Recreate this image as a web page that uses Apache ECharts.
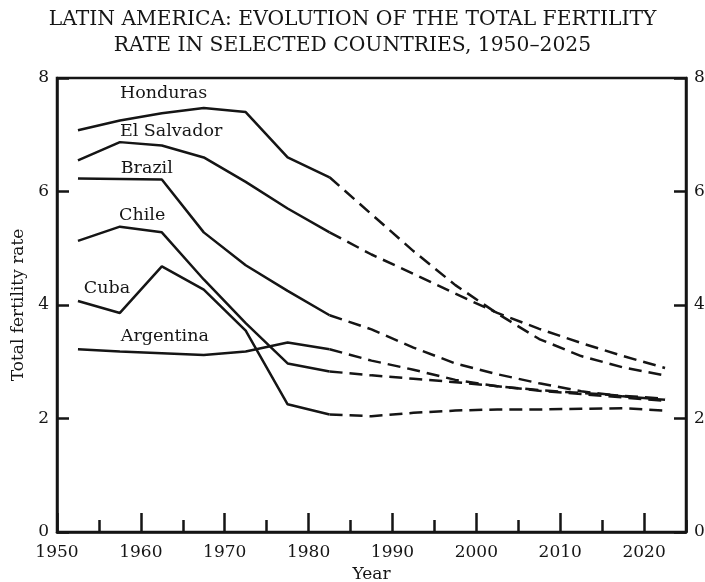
<!DOCTYPE html>
<html>
<head>
<meta charset="utf-8">
<script src="https://cdn.jsdelivr.net/npm/echarts@6/dist/echarts.min.js"></script>
<style>
html, body { margin: 0; padding: 0; background: #fff; }
#chart { width: 705px; height: 582px; }
</style>
</head>
<body>
<div id="chart"></div>
<script>
// five-year period midpoints, observed up to 1982.5, projected after
var years = [1952.5, 1957.5, 1962.5, 1967.5, 1972.5, 1977.5, 1982.5,
             1987.5, 1992.5, 1997.5, 2002.5, 2007.5, 2012.5, 2017.5, 2022.5];
var splitIndex = 6;

var honduras   = [7.08, 7.25, 7.38, 7.47, 7.40, 6.60, 6.25, 5.60, 4.95, 4.35, 3.85, 3.40, 3.10, 2.90, 2.76];
var elSalvador = [6.55, 6.87, 6.81, 6.60, 6.17, 5.70, 5.28, 4.89, 4.55, 4.20, 3.86, 3.58, 3.33, 3.10, 2.89];
var brazil     = [6.23, 6.22, 6.21, 5.28, 4.70, 4.25, 3.82, 3.57, 3.25, 2.97, 2.78, 2.62, 2.48, 2.39, 2.33];
var chile      = [5.13, 5.38, 5.28, 4.45, 3.68, 2.97, 2.83, 2.76, 2.70, 2.64, 2.57, 2.49, 2.43, 2.37, 2.31];
var cuba       = [4.07, 3.86, 4.68, 4.27, 3.55, 2.25, 2.07, 2.04, 2.10, 2.14, 2.16, 2.16, 2.17, 2.18, 2.14];
var argentina  = [3.22, 3.18, 3.15, 3.12, 3.18, 3.34, 3.22, 3.02, 2.86, 2.68, 2.57, 2.50, 2.45, 2.40, 2.35];

var countries = ['Honduras', 'El Salvador', 'Brazil', 'Chile', 'Cuba', 'Argentina'];
var countryValues = [honduras, elSalvador, brazil, chile, cuba, argentina];

// where each country name sits (year, rate at its left/middle)
var labelYears = [1957.5, 1957.5, 1957.6, 1957.4, 1953.2, 1957.6];
var labelRates = [7.72, 7.06, 6.41, 5.58, 4.30, 3.45];

var yTicks = [0, 2, 4, 6, 8];

var ink = '#151515';
var serif = 'DejaVu Serif';

var myChart = echarts.init(document.getElementById('chart'));

function pairs(vals, from, to) {
    var out = [];
    for (var i = from; i <= to; i++) out.push([years[i], vals[i]]);
    return out;
}

var series = [];
for (var c = 0; c < countries.length; c++) {
    series.push({
        name: countries[c],
        type: 'line',
        data: pairs(countryValues[c], 0, splitIndex),
        showSymbol: false,
        lineStyle: { color: ink, width: 2.5 },
        z: 3
    });
    series.push({
        name: countries[c] + ' projected',
        type: 'line',
        data: pairs(countryValues[c], splitIndex, years.length - 1),
        showSymbol: false,
        lineStyle: { color: ink, width: 2.5, type: [13, 7] },
        z: 3
    });
}

var option = {
    animation: false,
    title: {
        text: 'LATIN AMERICA: EVOLUTION OF THE TOTAL FERTILITY\nRATE IN SELECTED COUNTRIES, 1950\u20132025',
        left: 'center',
        top: 2,
        padding: [5, 0, 5, 30],
        textStyle: { fontFamily: serif, fontSize: 20.3, fontWeight: 'normal', color: ink, lineHeight: 26 }
    },
    grid: {
        left: 57, right: 19, top: 78, bottom: 50,
        outerBoundsMode: 'none',
        show: true, borderColor: ink, borderWidth: 2.5, backgroundColor: 'transparent'
    },
    xAxis: [{
        type: 'value',
        min: 1950, max: 2025, interval: 10,
        position: 'bottom',
        name: 'Year',
        nameLocation: 'middle',
        nameGap: 28,
        nameTextStyle: { fontFamily: serif, fontSize: 17, color: ink },
        axisLine: { lineStyle: { color: ink, width: 2.5 } },
        axisTick: { inside: true, length: 19, lineStyle: { color: ink, width: 2.5 } },
        axisLabel: {
            showMaxLabel: false, margin: 12, fontFamily: serif, fontSize: 17, color: ink,
            formatter: function (v) { return String(v); }
        },
        splitLine: { show: false }
    }, {
        type: 'value',
        min: 1950, max: 2025, interval: 5,
        position: 'bottom',
        axisLine: { show: false },
        axisTick: { inside: true, length: 12, lineStyle: { color: ink, width: 2.5 } },
        axisLabel: { show: false },
        splitLine: { show: false }
    }],
    yAxis: [{
        type: 'value',
        min: 0, max: 8, interval: 2,
        position: 'left',
        name: 'Total fertility rate',
        nameLocation: 'middle',
        nameGap: 29,
        nameTextStyle: { fontFamily: serif, fontSize: 17, color: ink },
        axisLine: { show: true, lineStyle: { color: ink, width: 2.5 } },
        axisTick: { show: true, inside: true, length: 12, lineStyle: { color: ink, width: 2.5 } },
        axisLabel: {
            margin: 8, fontFamily: serif, fontSize: 17, color: ink, padding: [0, 0, 8, 0],
            formatter: function (v) { return yTicks.indexOf(v) >= 0 ? String(v) : ''; }
        },
        splitLine: { show: false }
    }, {
        type: 'value',
        min: 0, max: 8, interval: 2,
        position: 'right',
        axisLine: { show: true, lineStyle: { color: ink, width: 2.5 } },
        axisTick: { show: true, inside: true, length: 12, lineStyle: { color: ink, width: 2.5 } },
        axisLabel: {
            margin: 8, fontFamily: serif, fontSize: 17, color: ink, padding: [0, 0, 8, 0],
            formatter: function (v) { return yTicks.indexOf(v) >= 0 ? String(v) : ''; }
        },
        splitLine: { show: false }
    }],
    series: series
};

myChart.setOption(option);

// country names placed through the chart's own coordinate system
var texts = [];
for (var k = 0; k < countries.length; k++) {
    var p = myChart.convertToPixel({ gridIndex: 0 }, [labelYears[k], labelRates[k]]);
    texts.push({
        type: 'text',
        x: p[0],
        y: p[1],
        style: {
            text: countries[k],
            fontFamily: serif,
            fontSize: 17.5,
            fill: ink,
            textVerticalAlign: 'middle'
        },
        z: 10
    });
}
myChart.setOption({ graphic: texts });
</script>
</body>
</html>
